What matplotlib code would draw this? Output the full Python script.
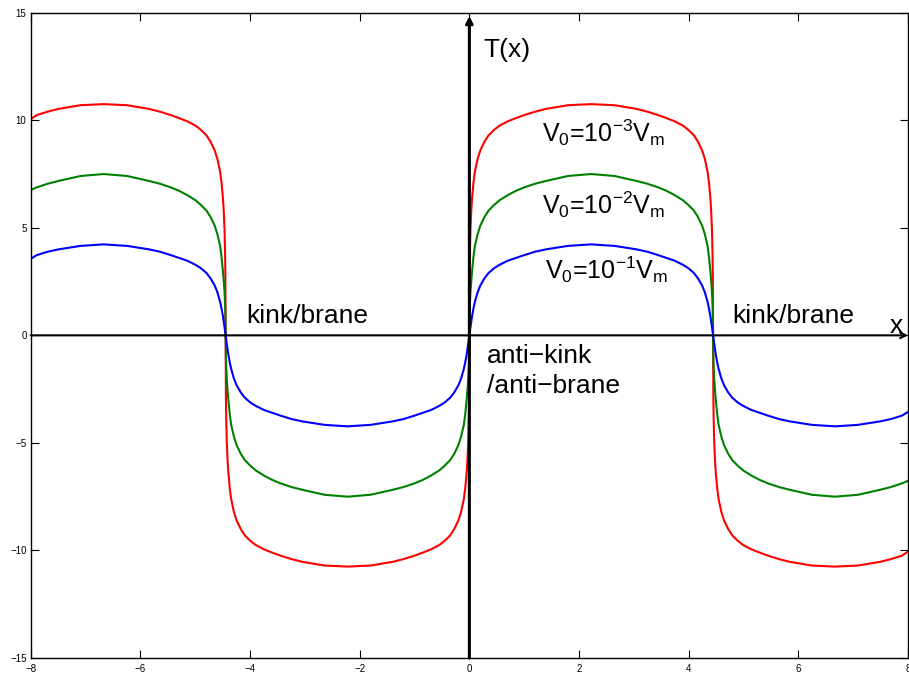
import numpy as np
import matplotlib
matplotlib.use('Agg')
import matplotlib.pyplot as plt

plt.rcParams['font.family'] = ['Liberation Sans', 'DejaVu Sans']
plt.rcParams['mathtext.fontset'] = 'custom'
plt.rcParams['mathtext.rm'] = 'Liberation Sans'
plt.rcParams['mathtext.it'] = 'Liberation Sans'
plt.rcParams['mathtext.default'] = 'regular'

# x positions shared by the three curves
x = [-8, -7.89, -7.69, -7.49, -7.09, -6.67,
     -6.245, -5.845, -5.645, -5.445, -5.295, -5.145, -4.995, -4.895, -4.795, -4.72,
     -4.645, -4.595, -4.545, -4.52, -4.495, -4.48, -4.465, -4.455, -4.45, -4.445,
     # anti-arch between -4.445 and 0
     -4.44, -4.435, -4.425, -4.41, -4.395, -4.37, -4.345, -4.295, -4.245, -4.17,
     -4.095, -3.995, -3.895, -3.745, -3.595, -3.445, -3.245, -3.045, -2.645, -2.22,
     -1.8, -1.4, -1.2, -1.0, -0.85, -0.7, -0.55, -0.45, -0.35, -0.275,
     -0.2, -0.15, -0.1, -0.075, -0.05, -0.035, -0.02, -0.01, -0.005, 0,
     # arch between 0 and 4.445
     0.005, 0.01, 0.02, 0.035, 0.05, 0.075, 0.1, 0.15, 0.2, 0.275,
     0.35, 0.45, 0.55, 0.7, 0.85, 1.0, 1.2, 1.4, 1.8, 2.22,
     2.645, 3.045, 3.245, 3.445, 3.595, 3.745, 3.895, 3.995, 4.095, 4.17,
     4.245, 4.295, 4.345, 4.37, 4.395, 4.41, 4.425, 4.435, 4.44, 4.445,
     # anti-arch from 4.445 to the edge
     4.45, 4.455, 4.465, 4.48, 4.495, 4.52, 4.545, 4.595, 4.645, 4.72,
     4.795, 4.895, 4.995, 5.145, 5.295, 5.445, 5.645, 5.845, 6.245, 6.67,
     7.09, 7.49, 7.69, 7.89, 8]

# V0 = 1e-3 Vm (red)
t_red = [10.05, 10.24, 10.4, 10.53, 10.7, 10.75,
         10.7, 10.53, 10.4, 10.24, 10.1, 9.95, 9.75, 9.55, 9.3, 9.0,
         8.6, 8.2, 7.6, 7.1, 6.4, 5.8, 4.9, 3.8, 2.8, 0,
         -2.8, -3.8, -4.9, -5.8, -6.4, -7.1, -7.6, -8.2, -8.6, -9.0,
         -9.3, -9.55, -9.75, -9.95, -10.1, -10.24, -10.4, -10.53, -10.7, -10.75,
         -10.7, -10.53, -10.4, -10.24, -10.1, -9.95, -9.75, -9.55, -9.3, -9.0,
         -8.6, -8.2, -7.6, -7.1, -6.4, -5.8, -4.9, -3.8, -2.8, 0,
         2.8, 3.8, 4.9, 5.8, 6.4, 7.1, 7.6, 8.2, 8.6, 9.0,
         9.3, 9.55, 9.75, 9.95, 10.1, 10.24, 10.4, 10.53, 10.7, 10.75,
         10.7, 10.53, 10.4, 10.24, 10.1, 9.95, 9.75, 9.55, 9.3, 9.0,
         8.6, 8.2, 7.6, 7.1, 6.4, 5.8, 4.9, 3.8, 2.8, 0,
         -2.8, -3.8, -4.9, -5.8, -6.4, -7.1, -7.6, -8.2, -8.6, -9.0,
         -9.3, -9.55, -9.75, -9.95, -10.1, -10.24, -10.4, -10.53, -10.7, -10.75,
         -10.7, -10.53, -10.4, -10.24, -10.05]

# V0 = 1e-2 Vm (green)
t_green = [6.76, 6.88, 7.05, 7.18, 7.41, 7.5,
           7.41, 7.18, 7.05, 6.88, 6.72, 6.52, 6.28, 6.06, 5.8, 5.5,
           5.1, 4.7, 4.15, 3.65, 3.0, 2.55, 2.0, 1.45, 1.0, 0,
           -1.0, -1.45, -2.0, -2.55, -3.0, -3.65, -4.15, -4.7, -5.1, -5.5,
           -5.8, -6.06, -6.28, -6.52, -6.72, -6.88, -7.05, -7.18, -7.41, -7.5,
           -7.41, -7.18, -7.05, -6.88, -6.72, -6.52, -6.28, -6.06, -5.8, -5.5,
           -5.1, -4.7, -4.15, -3.65, -3.0, -2.55, -2.0, -1.45, -1.0, 0,
           1.0, 1.45, 2.0, 2.55, 3.0, 3.65, 4.15, 4.7, 5.1, 5.5,
           5.8, 6.06, 6.28, 6.52, 6.72, 6.88, 7.05, 7.18, 7.41, 7.5,
           7.41, 7.18, 7.05, 6.88, 6.72, 6.52, 6.28, 6.06, 5.8, 5.5,
           5.1, 4.7, 4.15, 3.65, 3.0, 2.55, 2.0, 1.45, 1.0, 0,
           -1.0, -1.45, -2.0, -2.55, -3.0, -3.65, -4.15, -4.7, -5.1, -5.5,
           -5.8, -6.06, -6.28, -6.52, -6.72, -6.88, -7.05, -7.18, -7.41, -7.5,
           -7.41, -7.18, -7.05, -6.88, -6.76]

# V0 = 1e-1 Vm (blue)
t_blue = [3.56, 3.73, 3.89, 4.0, 4.16, 4.23,
          4.16, 4.0, 3.89, 3.73, 3.6, 3.47, 3.28, 3.12, 2.9, 2.65,
          2.32, 2.0, 1.55, 1.25, 0.9, 0.65, 0.38, 0.2, 0.1, 0,
          -0.1, -0.2, -0.38, -0.65, -0.9, -1.25, -1.55, -2.0, -2.32, -2.65,
          -2.9, -3.12, -3.28, -3.47, -3.6, -3.73, -3.89, -4.0, -4.16, -4.23,
          -4.16, -4.0, -3.89, -3.73, -3.6, -3.47, -3.28, -3.12, -2.9, -2.65,
          -2.32, -2.0, -1.55, -1.25, -0.9, -0.65, -0.38, -0.2, -0.1, 0,
          0.1, 0.2, 0.38, 0.65, 0.9, 1.25, 1.55, 2.0, 2.32, 2.65,
          2.9, 3.12, 3.28, 3.47, 3.6, 3.73, 3.89, 4.0, 4.16, 4.23,
          4.16, 4.0, 3.89, 3.73, 3.6, 3.47, 3.28, 3.12, 2.9, 2.65,
          2.32, 2.0, 1.55, 1.25, 0.9, 0.65, 0.38, 0.2, 0.1, 0,
          -0.1, -0.2, -0.38, -0.65, -0.9, -1.25, -1.55, -2.0, -2.32, -2.65,
          -2.9, -3.12, -3.28, -3.47, -3.6, -3.73, -3.89, -4.0, -4.16, -4.23,
          -4.16, -4.0, -3.89, -3.73, -3.56]

xticks = [-8, -6, -4, -2, 0, 2, 4, 6, 8]
yticks = [-15, -10, -5, 0, 5, 10, 15]

fig = plt.figure(figsize=(9.09, 6.76), dpi=100)
ax = fig.add_axes([0.0338, 0.0266, 0.9651, 0.9546])

ax.plot(x, t_red, color='#ff0000', lw=1.5)
ax.plot(x, t_green, color='#008000', lw=1.5)
ax.plot(x, t_blue, color='#0000ff', lw=1.5)

# coordinate axes with arrows
ax.annotate('', xy=(8, 0), xytext=(-8, 0),
            arrowprops=dict(arrowstyle='->', lw=1.5, color='black', shrinkA=0, shrinkB=0))
ax.annotate('', xy=(0, 14.85), xytext=(0, -15),
            arrowprops=dict(arrowstyle='->', lw=2.2, color='black', shrinkA=0, shrinkB=0))

fs = 19
ax.text(0.25, 12.94, 'T(x)', fontsize=fs, va='baseline')
ax.text(7.67, 0.1, 'x', fontsize=fs, va='baseline')
ax.text(-4.07, 0.57, 'kink/brane', fontsize=fs, va='baseline')
ax.text(4.80, 0.57, 'kink/brane', fontsize=fs, va='baseline')
ax.text(0.32, -1.30, 'anti\u2212kink', fontsize=fs, va='baseline')
ax.text(0.32, -2.70, '/anti\u2212brane', fontsize=fs, va='baseline')
fm = 18
ax.text(1.32, 9.0, r'$V_0$=$10^{-3}$$V_m$', fontsize=fm, va='baseline')
ax.text(1.32, 5.67, r'$V_0$=$10^{-2}$$V_m$', fontsize=fm, va='baseline')
ax.text(1.38, 2.65, r'$V_0$=$10^{-1}$$V_m$', fontsize=fm, va='baseline')

ax.set_xlim(-8, 8)
ax.set_ylim(-15, 15)
ax.set_xticks(xticks)
ax.set_yticks(yticks)
ax.tick_params(direction='in', top=True, right=True, length=6, width=0.8, labelsize=7)
ax.tick_params(axis='x', pad=4)
ax.tick_params(axis='y', pad=3)
for s in ax.spines.values():
    s.set_linewidth(1.0)

fig.savefig('out.png', dpi=100)
